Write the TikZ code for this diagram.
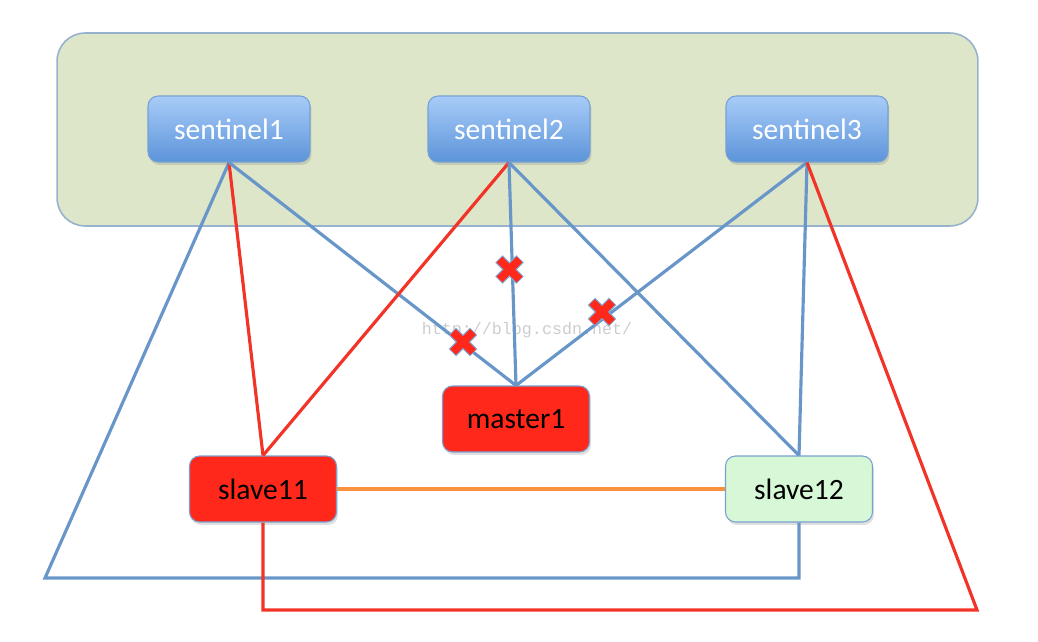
\documentclass[tikz,border=0pt]{standalone}
\usepackage{fontspec}
\setmainfont{Carlito}
\newfontfamily\wmfont{Liberation Mono}
\usetikzlibrary{shadows}
\definecolor{bgfill}{RGB}{221,230,201}
\definecolor{bgdraw}{RGB}{150,178,205}
\definecolor{senttop}{RGB}{168,204,248}
\definecolor{sentbot}{RGB}{92,148,218}
\definecolor{sentdraw}{RGB}{120,160,210}
\definecolor{masterfill}{RGB}{255,40,26}
\definecolor{greenfill}{RGB}{214,248,214}
\definecolor{linkblue}{RGB}{104,150,200}
\definecolor{linkred}{RGB}{242,52,40}
\definecolor{linkorange}{RGB}{250,145,60}
\definecolor{wmgray}{RGB}{205,205,205}
\tikzset{
  box/.style={rounded corners=0.2cm, minimum height=1.32cm, inner sep=0pt,
    font=\fontsize{16.8}{20}\selectfont,
    drop shadow={opacity=0.25, shadow xshift=0.03cm, shadow yshift=-0.06cm}},
  sentbox/.style={box, minimum width=3.24cm, draw=sentdraw, line width=0.6pt,
    top color=senttop, bottom color=sentbot, text=white},
  redbox/.style={box, minimum width=2.94cm, draw=sentdraw, line width=0.6pt, fill=masterfill, text=black},
  greenbox/.style={box, minimum width=2.94cm, draw=sentdraw, line width=0.6pt, fill=greenfill, text=black},
  bl/.style={draw=linkblue, line width=1.8pt},
  rl/.style={draw=linkred, line width=1.8pt},
  ol/.style={draw=linkorange, line width=1.8pt},
  crossmark/.pic={
    \draw[line width=0.21cm, linkblue!85] (-10.6,-10.6) -- (10.6,10.6) (-10.6,10.6) -- (10.6,-10.6);
    \draw[line width=0.16cm, masterfill] (-10,-10) -- (10,10) (-10,10) -- (10,-10);
  }
}
\begin{document}
\begin{tikzpicture}[x=0.02cm, y=-0.02cm]
\useasboundingbox (0,0) rectangle (1038,642);
\node[draw=bgdraw, fill=bgfill, line width=0.9pt, rounded corners=0.56cm,
  minimum width=18.42cm, minimum height=3.86cm, inner sep=0pt] (group) at (517.5,129.5) {};
\node[sentbox] (s1) at (229,129) {sentinel1};
\node[sentbox] (s2) at (509,129) {sentinel2};
\node[sentbox] (s3) at (807,129) {sentinel3};
\node[redbox] (m1) at (516,419) {master1};
\node[redbox] (sl11) at (263,489) {slave11};
\node[greenbox] (sl12) at (799,489) {slave12};
\coordinate (c1) at (45,578);
\coordinate (c3) at (977,610);
% watermark
\node[text=wmgray, font=\wmfont\fontsize{9.5}{11}\selectfont, inner sep=0pt] (wm) at (527,330) {http://blog.csdn.net/};
% links
\draw[bl] (s1.south) -- (c1) -- (sl12.south |- c1) -- (sl12.south);
\draw[rl] (s1.south) -- (sl11.north);
\draw[bl] (s1.south) -- (m1.north);
\draw[rl] (s2.south) -- (sl11.north);
\draw[bl] (s2.south) -- (m1.north);
\draw[bl] (s2.south) -- (sl12.north);
\draw[bl] (s3.south) -- (m1.north);
\draw[bl] (s3.south) -- (sl12.north);
\draw[rl] (s3.south) -- (c3) -- (sl11.south |- c3) -- (sl11.south);
\draw[ol] (sl11.east) -- (sl12.west);
% crosses
\coordinate (x1) at (463,342);
\coordinate (x2) at (509.5,269.5);
\coordinate (x3) at (602,312);
\pic at (x1) {crossmark};
\pic at (x2) {crossmark};
\pic at (x3) {crossmark};
\end{tikzpicture}
\end{document}
